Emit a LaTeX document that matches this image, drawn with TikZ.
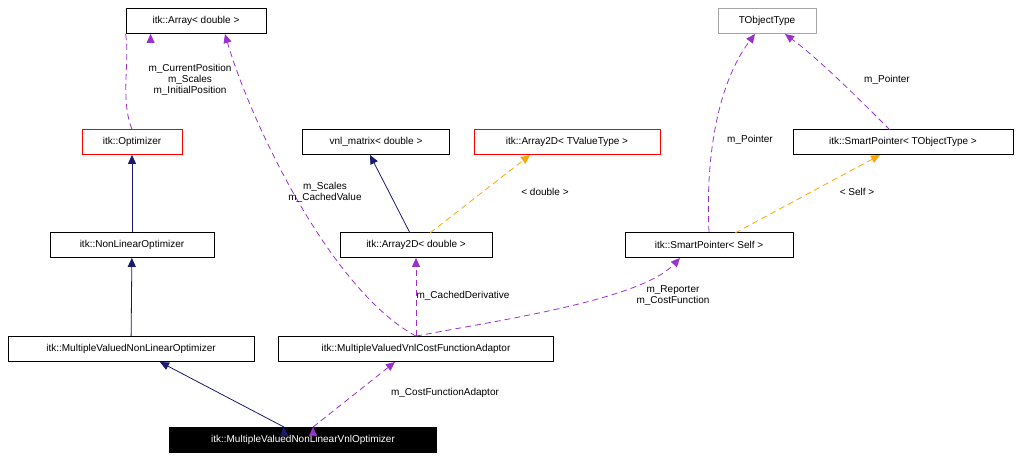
\documentclass[tikz,border=0pt]{standalone}
\usepackage{fontspec}
\setmainfont{Liberation Sans}
\usetikzlibrary{arrows.meta}
\definecolor{navy}{RGB}{25,25,112}
\definecolor{purp}{RGB}{153,50,204}
\definecolor{orng}{RGB}{255,165,0}
\tikzset{
  box/.style={draw=black,line width=0.8pt,fill=white,minimum height=25pt,inner xsep=4pt,font=\fontsize{10}{12}\selectfont},
  redbox/.style={box,draw=red},
  graybox/.style={box,draw=gray!70},
  inh/.style={navy,line width=0.8pt,-{Triangle[length=9pt,width=8pt]}},
  use/.style={purp,line width=0.8pt,dash pattern=on 6pt off 4pt,-{Triangle[length=9pt,width=8pt]}},
  tmpl/.style={orng,line width=0.8pt,dash pattern=on 6pt off 4pt,-{Triangle[length=9pt,width=8pt]}},
  lbl/.style={font=\fontsize{10}{11}\selectfont,align=center,inner sep=1pt}
}
\begin{document}
\begin{tikzpicture}[x=1pt,y=-1pt]
\useasboundingbox (0,0) rectangle (1020,460);
\node[box,minimum width=140pt] (arr) at (196,21) {itk::Array< double >};
\node[graybox,minimum width=98pt] (tobj) at (767,21) {TObjectType};
\node[redbox,minimum width=100pt] (opt) at (132,142) {itk::Optimizer};
\node[box,minimum width=147pt] (vnl) at (376,142) {vnl\_matrix< double >};
\node[redbox,minimum width=186pt] (a2t) at (567,142) {itk::Array2D< TValueType >};
\node[box,minimum width=220pt] (spt) at (903,142) {itk::SmartPointer< TObjectType >};
\node[box,minimum width=164pt] (nlo) at (132,245) {itk::NonLinearOptimizer};
\node[box,minimum width=152pt] (a2d) at (416,245) {itk::Array2D< double >};
\node[box,minimum width=168pt] (sps) at (709,245) {itk::SmartPointer< Self >};
\node[box,minimum width=246pt] (mvnlo) at (131,349) {itk::MultipleValuedNonLinearOptimizer};
\node[box,minimum width=275pt] (adap) at (416,349) {itk::MultipleValuedVnlCostFunctionAdaptor};
\node[box,fill=black,text=white,minimum width=267pt] (main) at (303,440) {itk::MultipleValuedNonLinearVnlOptimizer};

\draw[use] (opt.north) .. controls (120,100) and (130,60) .. (arr.south west) ++(25,0) coordinate (dummy);
\node[lbl] at (190,80) {m\_CurrentPosition\\m\_Scales\\m\_InitialPosition};
\draw[inh] (nlo) -- (opt);
\draw[inh] (mvnlo) -- (nlo);
\draw[inh] (main.north west) ++(115,0) coordinate (m1);
\draw[inh] (m1) -- (160,362);
\draw[use] (main.north) ++(10,0) coordinate (m2);
\draw[use] (m2) -- (395,362);
\node[lbl] at (445,393) {m\_CostFunctionAdaptor};
\draw[use] (adap.north) .. controls (330,290) and (250,120) .. (225,34);
\node[lbl] at (325,192) {m\_Scales\\m\_CachedValue};
\draw[use] (adap.north) -- (a2d.south);
\node[lbl] at (463,296) {m\_CachedDerivative};
\draw[use] (adap.north) .. controls (500,320) and (640,300) .. (680,258);
\node[lbl] at (673,296) {m\_Reporter\\m\_CostFunction};
\draw[inh] (410,233) -- (370,155);
\draw[tmpl] (430,233) -- (530,155);
\node[lbl] at (545,192) {< double >};
\draw[use] (sps.north) .. controls (705,150) and (720,80) .. (755,34);
\node[lbl] at (750,140) {m\_Pointer};
\draw[tmpl] (735,233) -- (880,155);
\node[lbl] at (857,192) {< Self >};
\draw[use] (890,130) .. controls (860,100) and (820,60) .. (785,34);
\node[lbl] at (887,80) {m\_Pointer};
\end{tikzpicture}
\end{document}
